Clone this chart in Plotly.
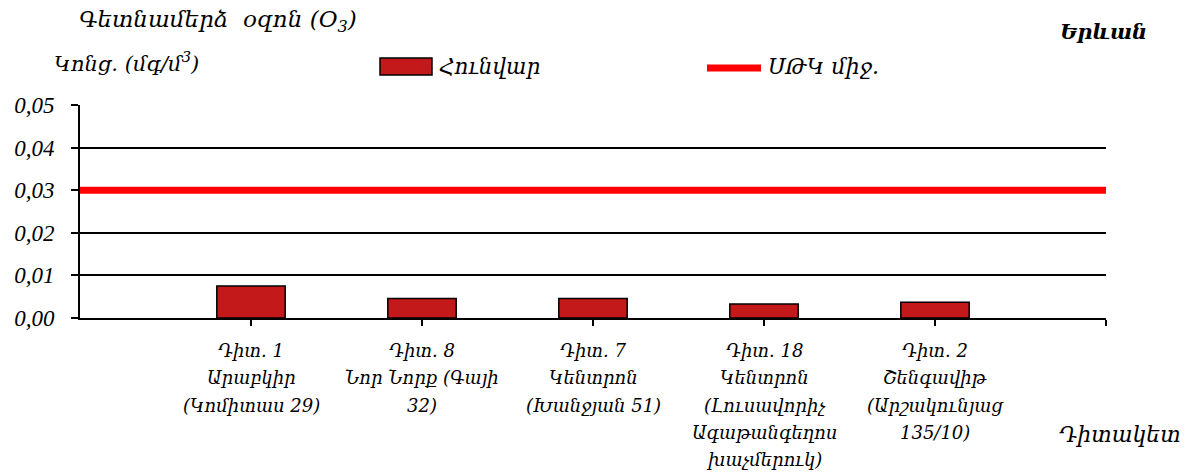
import plotly.graph_objects as go

# ---- data ----
stations = [
    "Դիտ. 1<br>Արաբկիր<br>(Կոմիտաս 29)",
    "Դիտ. 8<br>Նոր Նորք (Գայի<br>32)",
    "Դիտ. 7<br>Կենտրոն<br>(Խանջյան 51)",
    "Դիտ. 18<br>Կենտրոն<br>(Լուսավորիչ<br>Ագաթանգեղոս<br>խաչմերուկ)",
    "Դիտ. 2<br>Շենգավիթ<br>(Արշակունյաց<br>135/10)",
]
january = [0.0075, 0.0046, 0.0046, 0.0033, 0.0037]
mac_limit = 0.03
y_ticks = [0.00, 0.01, 0.02, 0.03, 0.04, 0.05]

series_name = "Հունվար"
limit_name = "ՍԹԿ միջ."
title_text = "Գետնամերձ  օզոն (O<sub>3</sub>)"
unit_text = "Կոնց. (մգ/մ<sup>3</sup>)"
city_text = "Երևան"
xaxis_text = "Դիտակետ"

FONT = "Liberation Serif"
ARM = "DejaVu Serif"
BAR = "#C4191B"

xpos = list(range(1, len(stations) + 1))
n = len(stations)

fig = go.Figure()
fig.add_trace(go.Bar(
    x=xpos, y=january, name=series_name, width=0.4,
    marker=dict(color=BAR, line=dict(color="black", width=1.5)),
    showlegend=False,
))
fig.add_trace(go.Scatter(
    x=[0, n + 1], y=[mac_limit, mac_limit], mode="lines", name=limit_name,
    line=dict(color="#FF0000", width=7), showlegend=False,
))

fig.update_layout(
    width=1191, height=476,
    margin=dict(l=80, r=85, t=105, b=158),
    paper_bgcolor="white", plot_bgcolor="white",
    separators=",.",
    font=dict(family=FONT, size=20, color="black", style="italic"),
    bargap=0.6,
)
fig.update_xaxes(
    range=[0, n + 1], tickvals=xpos + [n + 1], showticklabels=False,
    showline=True, linecolor="black", linewidth=2,
    ticks="outside", ticklen=6, tickwidth=1.5, tickcolor="black",
    showgrid=False, zeroline=False, automargin=False,
)
fig.update_yaxes(
    range=[0, 0.05], tickvals=y_ticks, tickformat=".2f",
    showline=True, linecolor="black", linewidth=2,
    ticks="outside", ticklen=7, tickwidth=1.5, tickcolor="black",
    showgrid=True, gridcolor="black", gridwidth=1.5, zeroline=False,
    automargin=False,
    tickfont=dict(family=FONT, size=23, style="italic"),
    ticklabelstandoff=12,
)

def px_x(p):
    return (p - 80) / 1026.0

def px_y(p):
    return (318 - p) / 213.0

# category labels, one annotation per line for Excel-like line spacing
for xi, label in zip(xpos, stations):
    for j, line in enumerate(label.split("<br>")):
        fig.add_annotation(
            text=line, xref="x", yref="paper", x=xi, y=px_y(350 + 27.5 * j),
            xanchor="center", yanchor="middle", showarrow=False,
            font=dict(family=ARM, size=18, style="italic", color="black"),
        )

# manual legend
fig.add_shape(type="rect", xref="paper", yref="paper",
              x0=px_x(380), x1=px_x(432), y0=px_y(75), y1=px_y(58),
              fillcolor=BAR, line=dict(color="black", width=1.5))
fig.add_shape(type="line", xref="paper", yref="paper",
              x0=px_x(707), x1=px_x(761), y0=px_y(68), y1=px_y(68),
              line=dict(color="#FF0000", width=7))

ann = [
    dict(text=series_name, x=px_x(437), y=px_y(66), xanchor="left", size=21.5),
    dict(text=limit_name, x=px_x(766), y=px_y(66), xanchor="left", size=22),
    dict(text=title_text, x=px_x(77), y=px_y(21), xanchor="left", size=23),
    dict(text=unit_text, x=px_x(52), y=px_y(62), xanchor="left", size=21),
    dict(text=xaxis_text, x=px_x(1183), y=px_y(434), xanchor="right", size=22),
]
for a in ann:
    fig.add_annotation(
        text=a["text"], xref="paper", yref="paper", x=a["x"], y=a["y"],
        xanchor=a["xanchor"], yanchor="middle", showarrow=False,
        font=dict(family=ARM, size=a["size"], style="italic", color="black"),
    )
fig.add_annotation(
    text="<b>" + city_text + "</b>", xref="paper", yref="paper",
    x=px_x(1149), y=px_y(32), xanchor="right", yanchor="middle", showarrow=False,
    font=dict(family=ARM, size=21, style="italic", color="black"),
)

fig.write_html("out.html", config={"displayModeBar": False},
               post_script="document.body.style.margin='0';")
